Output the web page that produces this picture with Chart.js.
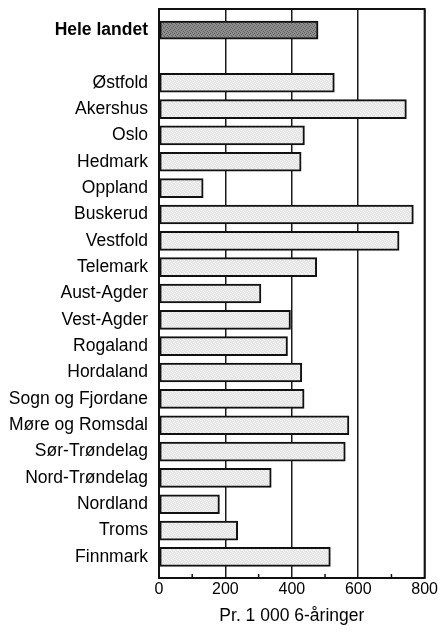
<!DOCTYPE html>
<html>
<head>
<meta charset="utf-8">
<script src="https://cdn.jsdelivr.net/npm/chart.js@4.4.0/dist/chart.umd.min.js"></script>
<style>
  body { margin: 0; background: #fff; }
  #wrap { width: 440px; height: 639px; }
</style>
</head>
<body>
<div id="wrap"><canvas id="chart" width="440" height="639"></canvas></div>
<script>
const totalLabel = "Hele landet";
const totalValue = 479;

const regions = [
  "Østfold", "Akershus", "Oslo", "Hedmark", "Oppland", "Buskerud",
  "Vestfold", "Telemark", "Aust-Agder", "Vest-Agder", "Rogaland",
  "Hordaland", "Sogn og Fjordane", "Møre og Romsdal", "Sør-Trøndelag",
  "Nord-Trøndelag", "Nordland", "Troms", "Finnmark"
];
const regionValues = [
  528, 745, 438, 428, 133, 766,
  723, 475, 307, 396, 387,
  430, 437, 572, 561,
  338, 182, 237, 516
];

const xTicks = [0, 200, 400, 600, 800];
const minorTicks = [100, 300, 500, 700];
const xTitle = "Pr. 1 000 6-åringer";

// row positions: total on row 0, one empty row, then the counties
const rowLabels = [totalLabel, ""].concat(regions);
const FONT = "'Liberation Sans', Arial, Helvetica, sans-serif";

function makePattern(base, dot) {
  const c = document.createElement("canvas");
  c.width = 4; c.height = 4;
  const g = c.getContext("2d");
  g.fillStyle = base; g.fillRect(0, 0, 4, 4);
  g.fillStyle = dot;
  g.fillRect(0, 0, 1, 1); g.fillRect(2, 1, 1, 1);
  g.fillRect(1, 2, 1, 1); g.fillRect(3, 3, 1, 1);
  return g.createPattern(c, "repeat");
}

const framePlugin = {
  id: "frame",
  afterDatasetsDraw(chart) {
    const { ctx, chartArea: a, scales } = chart;
    ctx.save();
    ctx.strokeStyle = "#111";
    ctx.lineWidth = 2;
    ctx.strokeRect(a.left, a.top, a.right - a.left, a.bottom - a.top);
    ctx.lineWidth = 1.5;
    minorTicks.forEach(v => {
      const x = scales.x.getPixelForValue(v);
      ctx.beginPath();
      ctx.moveTo(x, a.bottom);
      ctx.lineTo(x, a.bottom - 4);
      ctx.stroke();
    });
    ctx.restore();
  }
};

const ctx = document.getElementById("chart").getContext("2d");
new Chart(ctx, {
  type: "bar",
  data: {
    datasets: [
      {
        data: [{ x: totalValue, y: 0 }],
        backgroundColor: makePattern("#8e8e8e", "#5e5e5e"),
        borderColor: "#111",
        borderWidth: 2,
        borderSkipped: false,
        barThickness: 18
      },
      {
        data: regionValues.map((v, i) => ({ x: v, y: i + 2 })),
        backgroundColor: makePattern("#e6e6e6", "#f6f6f6"),
        borderColor: "#111",
        borderWidth: 2,
        borderSkipped: false,
        barThickness: 19
      }
    ]
  },
  options: {
    indexAxis: "y",
    responsive: false,
    animation: false,
    grouped: false,
    layout: { padding: { top: 9, right: 14, left: 0, bottom: 0 } },
    plugins: { legend: { display: false }, tooltip: { enabled: false } },
    scales: {
      y: {
        type: "linear",
        reverse: true,
        offset: false,
        min: -0.8,
        max: rowLabels.length - 1 + 0.8,
        afterBuildTicks: (scale) => {
          scale.ticks = rowLabels
            .map((l, i) => ({ value: i, label: l }))
            .filter(t => t.label !== "");
        },
        afterFit: (scale) => {
          scale.width = 159;
          scale.paddingTop = 0;
          scale.paddingBottom = 0;
        },
        grid: { display: false, drawTicks: false, offset: false },
        border: { display: false },
        ticks: {
          padding: 11,
          color: "#000",
          autoSkip: false,
          callback: (v) => rowLabels[v],
          font: (c) => ({
            family: FONT,
            size: 17.5,
            weight: c.tick && c.tick.value === 0 ? "bold" : "normal"
          })
        }
      },
      x: {
        type: "linear",
        min: 0,
        max: 800,
        afterBuildTicks: (scale) => {
          scale.ticks = xTicks.map(v => ({ value: v }));
        },
        afterFit: (scale) => { scale.height = 61; },
        grid: {
          drawTicks: false,
          color: "#1a1a1a",
          lineWidth: 1.5
        },
        border: { display: false },
        ticks: {
          padding: 2,
          color: "#000",
          font: { family: FONT, size: 16 }
        },
        title: {
          display: true,
          text: xTitle,
          color: "#000",
          font: { family: FONT, size: 17.5 },
          padding: { top: 2, bottom: 12 }
        }
      }
    }
  },
  plugins: [framePlugin]
});
</script>
</body>
</html>
